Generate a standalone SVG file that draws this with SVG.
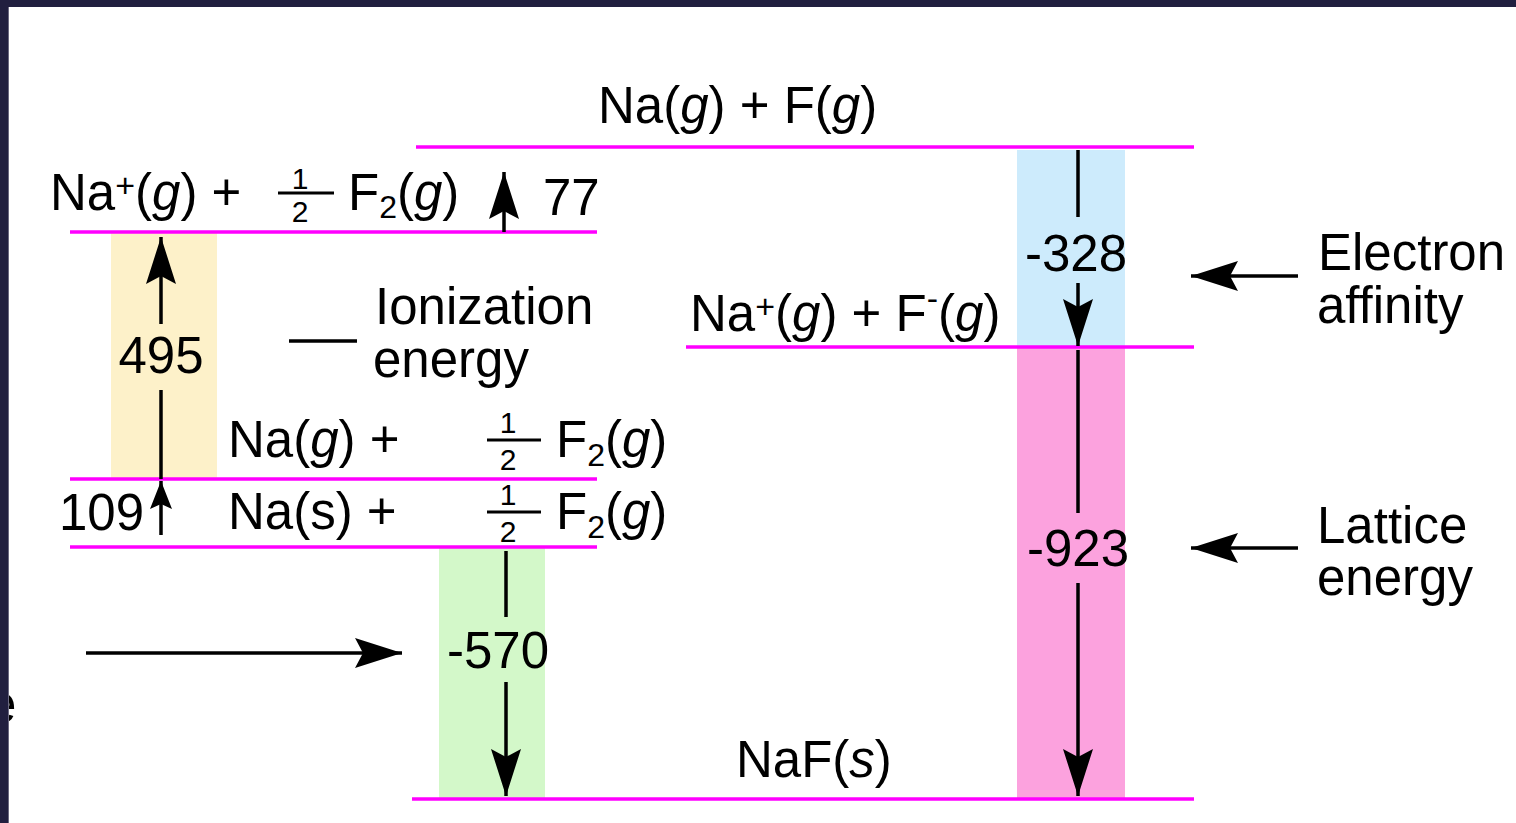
<svg xmlns="http://www.w3.org/2000/svg" width="1516" height="823" viewBox="0 0 1516 823">
<style>
text{font-family:"Liberation Sans",Arial,sans-serif;fill:#000}
.t{font-size:51px}
.f{font-size:30px}
.sub{font-size:32px}
.sup{font-size:34px}
.i{font-style:italic}
.lvl{stroke:#ff00ff;stroke-width:3.5;fill:none}
.ln{stroke:#000;stroke-width:3.5;fill:none}
.bar{stroke:#000;stroke-width:3}
.big{marker-end:url(#ahBig)}
.small{marker-end:url(#ahSmall)}
</style>
<defs>
<marker id="ahBig" markerUnits="userSpaceOnUse" viewBox="-50 -16 52 32" markerWidth="52" markerHeight="32" refX="0" refY="0" orient="auto">
<path d="M0,0 L-47,-15 L-39,0 L-47,15 Z" fill="#000"/>
</marker>
<marker id="ahSmall" markerUnits="userSpaceOnUse" viewBox="-32 -12 34 24" markerWidth="34" markerHeight="24" refX="0" refY="0" orient="auto">
<path d="M0,0 L-28,-11 L-23,0 L-28,11 Z" fill="#000"/>
</marker>
</defs>
<rect x="0" y="0" width="1516" height="823" fill="#fff"/>
<g id="bands">
<rect x="111" y="232" width="106" height="247" fill="#fdf1c9"/>
<rect x="439" y="547" width="106" height="252" fill="#d3f8c9"/>
<rect x="1017" y="150" width="108" height="197" fill="#cdebfc"/>
<rect x="1017" y="347" width="108" height="452" fill="#fca2de"/>
</g>
<text class="t" x="-12" y="722">e</text>
<g id="level-NaF-s">
<line class="lvl" x1="412" y1="799" x2="1194" y2="799"/>
<text class="t" x="736" y="777">NaF(<tspan class="i">s</tspan>)</text>
</g>
<g id="level-Na-g-F-g">
<line class="lvl" x1="416" y1="147" x2="1194" y2="147"/>
<text class="t" x="598" y="123">Na(<tspan class="i">g</tspan>) + F(<tspan class="i">g</tspan>)</text>
</g>
<g id="level-Naplus-Fminus">
<line class="lvl" x1="686" y1="347" x2="1194" y2="347"/>
<text class="t" x="690" y="331">Na<tspan class="sup" dy="-13">+</tspan><tspan dy="13">(</tspan><tspan class="i">g</tspan>) + F<tspan class="sup" dy="-21">-</tspan><tspan dy="21">(</tspan><tspan class="i">g</tspan>)</text>
</g>
<g id="level-Naplus-halfF2">
<line class="lvl" x1="70" y1="232" x2="597" y2="232"/>
<text class="t" x="50" y="210">Na<tspan class="sup" dy="-13">+</tspan><tspan dy="13">(</tspan><tspan class="i">g</tspan>) +</text>
<text class="f" x="300" y="189" text-anchor="middle">1</text>
<line class="bar" x1="278" y1="193" x2="334" y2="193"/>
<text class="f" x="300" y="222" text-anchor="middle">2</text>
<text class="t" x="348" y="210">F<tspan class="sub" dy="8">2</tspan><tspan dy="-8">(</tspan><tspan class="i">g</tspan>)</text>
</g>
<g id="level-Na-g-halfF2">
<line class="lvl" x1="70" y1="479" x2="597" y2="479"/>
<text class="t" x="228" y="457">Na(<tspan class="i">g</tspan>) +</text>
<text class="f" x="508" y="433" text-anchor="middle">1</text>
<line class="bar" x1="487" y1="440" x2="541" y2="440"/>
<text class="f" x="508" y="470" text-anchor="middle">2</text>
<text class="t" x="556" y="457">F<tspan class="sub" dy="9">2</tspan><tspan dy="-9">(</tspan><tspan class="i">g</tspan>)</text>
</g>
<g id="level-Na-s-halfF2">
<line class="lvl" x1="70" y1="547" x2="597" y2="547"/>
<text class="t" x="228" y="529">Na(s) +</text>
<text class="f" x="508" y="505" text-anchor="middle">1</text>
<line class="bar" x1="487" y1="512" x2="541" y2="512"/>
<text class="f" x="508" y="542" text-anchor="middle">2</text>
<text class="t" x="556" y="529">F<tspan class="sub" dy="9">2</tspan><tspan dy="-9">(</tspan><tspan class="i">g</tspan>)</text>
</g>
<g id="label-ionization">
<text class="t" x="375" y="324">Ionization</text>
<text class="t" x="373" y="377">energy</text>
</g>
<g id="label-electron-affinity">
<text class="t" x="1318" y="270">Electron</text>
<text class="t" x="1317" y="323">affinity</text>
</g>
<g id="label-lattice-energy">
<text class="t" x="1317" y="543">Lattice</text>
<text class="t" x="1317" y="595">energy</text>
</g>
<g id="connectors">
<line class="ln small" x1="161" y1="535" x2="161" y2="481"/>
<text class="t" x="144" y="530" text-anchor="end">109</text>
<line class="ln" x1="161" y1="479" x2="161" y2="390"/>
<line class="ln big" x1="161" y1="324" x2="161" y2="237"/>
<text class="t" x="161" y="373" text-anchor="middle">495</text>
<line class="ln big" x1="504" y1="232" x2="504" y2="172"/>
<text class="t" x="543" y="215">77</text>
<line class="ln" x1="1078" y1="150" x2="1078" y2="217"/>
<line class="ln big" x1="1078" y1="283" x2="1078" y2="346"/>
<text class="t" x="1076" y="271" text-anchor="middle">-328</text>
<line class="ln" x1="1078" y1="350" x2="1078" y2="513"/>
<line class="ln big" x1="1078" y1="583" x2="1078" y2="796"/>
<text class="t" x="1078" y="566" text-anchor="middle">-923</text>
<line class="ln" x1="506" y1="551" x2="506" y2="617"/>
<line class="ln big" x1="506" y1="682" x2="506" y2="796"/>
<text class="t" x="498" y="668" text-anchor="middle">-570</text>
<line class="ln" x1="289" y1="341" x2="357" y2="341"/>
<line class="ln big" x1="1298" y1="276" x2="1191" y2="276"/>
<line class="ln big" x1="1298" y1="548" x2="1191" y2="548"/>
<line class="ln big" x1="86" y1="653" x2="402" y2="653"/>
</g>
<g id="frame">
<rect x="0" y="0" width="1516" height="7" fill="#211f3f"/>
<rect x="0" y="0" width="8" height="823" fill="#211f3f"/>
<rect x="8" y="7" width="1" height="816" fill="#6a6880"/>
</g>
</svg>
